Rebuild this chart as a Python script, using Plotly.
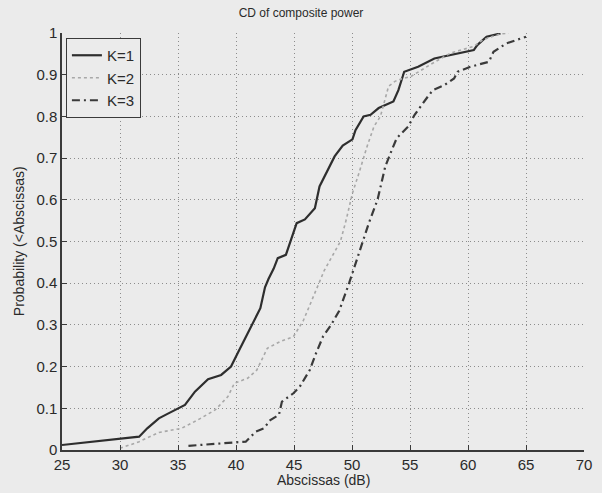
import plotly.graph_objects as go

# ---- data ----
k1_x = [25.0, 31.65, 32.35, 33.35, 34.05, 35.6, 36.46, 37.59, 38.72, 39.57, 40.28, 40.99, 41.7, 42.1,
        42.5, 42.8, 43.25, 43.6, 44.3, 44.8, 45.23, 45.94, 46.8, 47.2, 48.06, 48.5, 49.2, 50.04, 50.3,
        51.0, 51.6, 52.3, 53.57, 54.0, 54.5, 55.7, 57.1, 58.5, 60.5, 60.8, 61.6, 62.8]
k1_y = [0.012, 0.032, 0.052, 0.076, 0.086, 0.108, 0.14, 0.17, 0.18, 0.2, 0.24, 0.28, 0.32, 0.34,
        0.39, 0.41, 0.435, 0.46, 0.468, 0.512, 0.544, 0.553, 0.58, 0.632, 0.68, 0.704, 0.73, 0.745, 0.767,
        0.8, 0.804, 0.82, 0.836, 0.863, 0.907, 0.919, 0.939, 0.947, 0.959, 0.971, 0.991, 0.999]

k2_x = [30.0, 31.65, 33.35, 35.3, 36.7, 38.2, 39.3, 39.86, 41.0, 41.8, 42.7, 43.8, 44.95, 45.8,
        46.7, 47.6, 48.4, 49.0, 49.5, 50.04, 50.6, 51.3, 51.9, 52.45, 53.15, 53.7, 54.3, 55.1,
        56.8, 58.5, 60.5, 61.3, 62.8, 63.5]
k2_y = [0.004, 0.02, 0.042, 0.052, 0.072, 0.096, 0.128, 0.16, 0.172, 0.192, 0.244, 0.26, 0.272, 0.31,
        0.37, 0.43, 0.47, 0.5, 0.552, 0.616, 0.664, 0.728, 0.776, 0.8, 0.872, 0.884, 0.89, 0.896,
        0.925, 0.952, 0.968, 0.984, 0.998, 1.0]

k3_x = [35.9, 38.2, 39.6, 40.84, 41.7, 42.4, 42.96, 43.7, 43.96, 44.95, 45.5, 46.36, 46.9, 47.5,
        48.2, 48.9, 49.75, 50.3, 50.75, 51.45, 52.2, 52.87, 53.44, 53.86, 54.85, 55.4, 56.55, 56.97,
        57.96, 58.8, 59.1, 60.2, 61.8, 62.2, 63.3, 65.0]
k3_y = [0.01, 0.014, 0.018, 0.02, 0.044, 0.052, 0.072, 0.084, 0.116, 0.136, 0.152, 0.192, 0.232, 0.272,
        0.3, 0.334, 0.4, 0.448, 0.488, 0.544, 0.6, 0.68, 0.72, 0.748, 0.776, 0.804, 0.848, 0.863,
        0.875, 0.891, 0.907, 0.919, 0.931, 0.955, 0.975, 0.991]

series_names = ["K=1", "K=2", "K=3"]
x_ticks = [25, 30, 35, 40, 45, 50, 55, 60, 65, 70]
y_ticks = [0, 0.1, 0.2, 0.3, 0.4, 0.5, 0.6, 0.7, 0.8, 0.9, 1]
y_tick_text = ["0", "0.1", "0.2", "0.3", "0.4", "0.5", "0.6", "0.7", "0.8", "0.9", "1"]

BG = "#ebebeb"
FONT = "Liberation Sans, Arial, sans-serif"

fig = go.Figure()
fig.add_trace(go.Scatter(x=k1_x, y=k1_y, mode="lines", name=series_names[0],
                         line=dict(color="#2e2e2e", width=2.2, dash="solid")))
fig.add_trace(go.Scatter(x=k2_x, y=k2_y, mode="lines", name=series_names[1],
                         line=dict(color="#a8a8a8", width=1.6, dash="dot")))
fig.add_trace(go.Scatter(x=k3_x, y=k3_y, mode="lines", name=series_names[2],
                         line=dict(color="#3a3a3a", width=2.2, dash="8px,4px,2px,4px")))

axis_common = dict(
    showgrid=True, gridcolor="#8c8c8c", griddash="1px,3px", gridwidth=1,
    showline=True, linecolor="#3a3a3a", linewidth=1.5,
    ticks="inside", ticklen=5, tickcolor="#3a3a3a", tickwidth=1,
    zeroline=False, mirror=False,
    tickfont=dict(family=FONT, size=15, color="#2a2a2a"),
)

fig.update_layout(
    width=602, height=493,
    paper_bgcolor=BG, plot_bgcolor=BG,
    margin=dict(l=62, r=10, t=33, b=43),
    title=dict(text="CD of composite power", x=0.5, xanchor="center",
               y=1 - 13 / 493, yref="container", yanchor="middle",
               font=dict(family=FONT, size=12, color="#2a2a2a")),
    xaxis=dict(range=[25, 70], tickvals=x_ticks, **axis_common),
    yaxis=dict(range=[0, 1], tickvals=y_ticks, ticktext=y_tick_text, **axis_common),
    showlegend=True,
    legend=dict(x=0.0075, y=0.988, xanchor="left", yanchor="top",
                bgcolor=BG, bordercolor="#3a3a3a", borderwidth=1,
                font=dict(family=FONT, size=15, color="#2a2a2a"),
                tracegroupgap=0, itemwidth=30),
    annotations=[
        dict(text="Abscissas (dB)", xref="paper", yref="paper", x=0.5, y=-(480 - 450) / 417,
             xanchor="center", yanchor="middle", showarrow=False,
             font=dict(family=FONT, size=14, color="#2a2a2a")),
        dict(text="Probability (<Abscissas)", xref="paper", yref="paper",
             x=(18 - 62) / 530, y=0.5, xanchor="center", yanchor="middle", textangle=-90,
             showarrow=False, font=dict(family=FONT, size=14, color="#2a2a2a")),
    ],
)

fig.write_html("out.html")
